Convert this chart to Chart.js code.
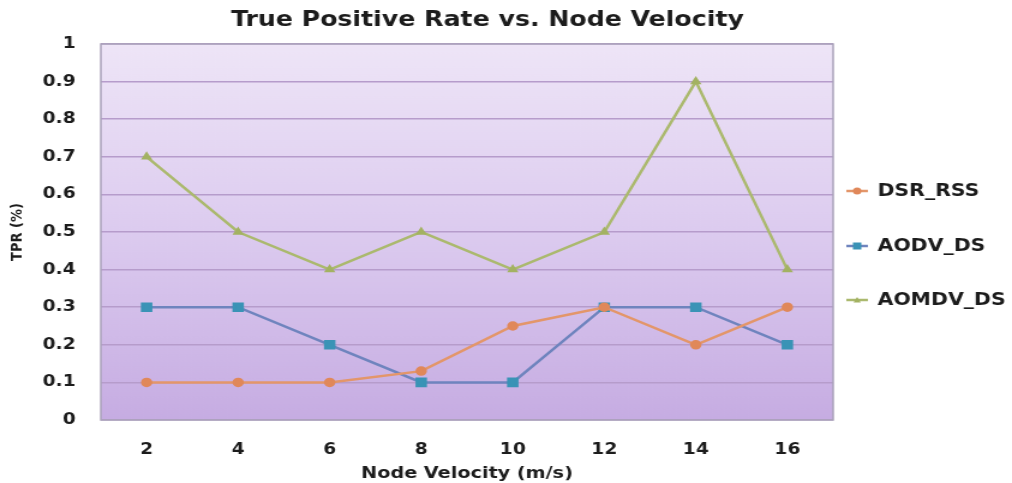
<!DOCTYPE html>
<html>
<head>
<meta charset="utf-8">
<script src="https://cdn.jsdelivr.net/npm/chart.js@4"></script>
<style>
  html, body { margin: 0; padding: 0; background: #ffffff; }
  /* the canvas is drawn narrower and widened on screen, giving the wide lettering */
  #c { display: block; width: 1012px; height: 483px; }
</style>
</head>
<body>
<canvas id="c" width="843" height="483" style="width:1012px;height:483px"></canvas>
<script>
// Node velocity categories (m/s)
const velocities = ['2', '4', '6', '8', '10', '12', '14', '16'];
// True positive rate for each protocol
const dsrRss   = [0.1, 0.1, 0.1, 0.13, 0.25, 0.3, 0.2, 0.3];
const aodvDs   = [0.3, 0.3, 0.2, 0.1, 0.1, 0.3, 0.3, 0.2];
const aomdvDs  = [0.7, 0.5, 0.4, 0.5, 0.4, 0.5, 0.9, 0.4];
const yTicks   = [0, 0.1, 0.2, 0.3, 0.4, 0.5, 0.6, 0.7, 0.8, 0.9, 1];
const chartTitle = 'True Positive Rate vs. Node Velocity';

const FONT = '"DejaVu Sans", sans-serif';
const INK = '#1c1c1c';

// Purple gradient fill behind the plot and a thin frame around it
const plotBackground = {
  id: 'plotBackground',
  beforeDraw(chart) {
    const { ctx, chartArea: a } = chart;
    const g = ctx.createLinearGradient(0, a.top, 0, a.bottom);
    g.addColorStop(0, '#eee5f7');
    g.addColorStop(0.5, '#dccbef');
    g.addColorStop(1, '#c6ace2');
    ctx.save();
    ctx.fillStyle = g;
    ctx.fillRect(a.left, a.top, a.right - a.left, a.bottom - a.top);
    ctx.restore();
  },
  afterDatasetsDraw(chart) {
    const { ctx, chartArea: a } = chart;
    ctx.save();
    ctx.strokeStyle = '#aaa3ba';
    ctx.lineWidth = 1.5;
    ctx.strokeRect(a.left, a.top, a.right - a.left, a.bottom - a.top);
    ctx.restore();
  }
};

// Title above the plot
const topTitle = {
  id: 'topTitle',
  afterDraw(chart) {
    const { ctx } = chart;
    ctx.save();
    ctx.fillStyle = INK;
    ctx.font = 'bold 21px ' + FONT;
    ctx.textAlign = 'center';
    ctx.textBaseline = 'middle';
    ctx.fillText(chartTitle, 406, 21);
    ctx.restore();
  }
};

// Legend on the right: short line with marker, then the series name
const sideLegend = {
  id: 'sideLegend',
  afterDraw(chart) {
    const { ctx } = chart;
    const rows = [191, 246, 300];
    chart.data.datasets.forEach((ds, i) => {
      const y = rows[i];
      const cx = 714;
      ctx.save();
      ctx.strokeStyle = ds.borderColor;
      ctx.lineWidth = 2.5;
      ctx.beginPath();
      ctx.moveTo(705, y);
      ctx.lineTo(723, y);
      ctx.stroke();
      ctx.fillStyle = ds.pointBackgroundColor;
      ctx.beginPath();
      if (ds.pointStyle === 'rect') {
        ctx.rect(cx - 3.5, y - 3.5, 7, 7);
      } else if (ds.pointStyle === 'triangle') {
        ctx.moveTo(cx, y - 3); ctx.lineTo(cx + 3, y + 2.5); ctx.lineTo(cx - 3, y + 2.5); ctx.closePath();
      } else {
        ctx.arc(cx, y, 3.5, 0, Math.PI * 2);
      }
      ctx.fill();
      ctx.fillStyle = INK;
      ctx.font = 'bold 17px ' + FONT;
      ctx.textBaseline = 'middle';
      ctx.textAlign = 'left';
      ctx.fillText(ds.label, 731, y + 1);
      ctx.restore();
    });
  }
};

new Chart(document.getElementById('c'), {
  type: 'line',
  data: {
    labels: velocities,
    datasets: [
      {
        label: 'DSR_RSS',
        data: dsrRss,
        borderColor: '#e3966a',
        backgroundColor: '#e3966a',
        pointBackgroundColor: '#e0885a',
        pointBorderColor: '#e0885a',
        pointStyle: 'circle',
        pointRadius: 3.5,
        borderWidth: 2.5,
        tension: 0
      },
      {
        label: 'AODV_DS',
        data: aodvDs,
        borderColor: '#6f84be',
        backgroundColor: '#3d92b8',
        pointBackgroundColor: '#3a93b6',
        pointBorderColor: '#3a93b6',
        pointStyle: 'rect',
        pointRadius: 5,
        borderWidth: 2.5,
        tension: 0
      },
      {
        label: 'AOMDV_DS',
        data: aomdvDs,
        borderColor: '#abb96e',
        backgroundColor: '#a3b262',
        pointBackgroundColor: '#a3b262',
        pointBorderColor: '#a3b262',
        pointStyle: 'triangle',
        pointRadius: 3,
        borderWidth: 2.5,
        tension: 0
      }
    ]
  },
  options: {
    responsive: false,
    animation: false,
    devicePixelRatio: 1,
    layout: { padding: { left: 0, right: 149, top: 44, bottom: 0 } },
    plugins: {
      legend: { display: false },
      tooltip: { enabled: false },
      title: { display: false }
    },
    scales: {
      x: {
        type: 'category',
        offset: true,
        grid: { display: false, drawTicks: false },
        border: { display: false },
        ticks: {
          color: INK,
          padding: 21,
          font: { family: FONT, size: 15.5, weight: 'bold' }
        },
        title: {
          display: true,
          text: 'Node Velocity (m/s)',
          color: INK,
          font: { family: FONT, size: 16, weight: 'bold' },
          padding: { top: 0, bottom: 0 }
        },
        afterFit(scale) { scale.height = 63; }
      },
      y: {
        min: 0,
        max: 1,
        afterBuildTicks(scale) { scale.ticks = yTicks.map(v => ({ value: v })); },
        grid: { color: '#b69ccb', lineWidth: 1.5, drawTicks: false },
        border: { display: false },
        ticks: {
          color: INK,
          padding: 21,
          font: { family: FONT, size: 15.5, weight: 'bold' },
          callback: v => String(v)
        },
        title: {
          display: true,
          text: 'TPR (%)',
          color: INK,
          font: { family: FONT, size: 13, weight: 'bold' },
          padding: { top: 7, bottom: 0 }
        },
        afterFit(scale) { scale.width = 84; }
      }
    }
  },
  plugins: [plotBackground, topTitle, sideLegend]
});
</script>
</body>
</html>
